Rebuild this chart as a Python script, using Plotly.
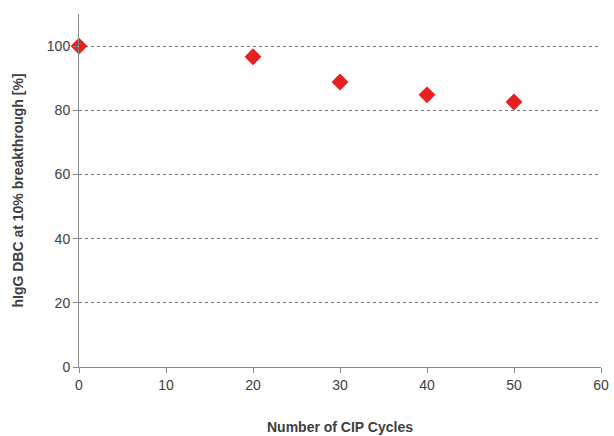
import plotly.graph_objects as go

cycles = [0, 20, 30, 40, 50]
dbc = [100, 96.7, 88.8, 84.8, 82.6]

fig = go.Figure(go.Scatter(x=cycles, y=dbc, mode="markers", cliponaxis=False,
    marker=dict(symbol="diamond", size=13, color="#e8201f")))
fig.update_layout(width=614, height=436, plot_bgcolor="white", paper_bgcolor="white",
    margin=dict(l=79, r=13, t=14, b=69), showlegend=False,
    font=dict(family="Liberation Sans, Arial", size=14, color="#404040"))
fig.update_xaxes(range=[0, 60], dtick=10, showgrid=False, showline=True, linecolor="#888",
    ticks="outside", ticklen=5, tickcolor="#888", zeroline=False, automargin=False,
    title=dict(text="<b>Number of CIP Cycles</b>", font=dict(size=14), standoff=30))
fig.update_yaxes(range=[0, 110], tickvals=[0, 20, 40, 60, 80, 100], showgrid=True,
    gridcolor="#777", griddash="dot", gridwidth=1, showline=True, linecolor="#888",
    ticks="outside", ticklen=5, tickcolor="#888", zeroline=False, automargin=False,
    title=dict(text="<b>hIgG DBC at 10% breakthrough [%]</b>", font=dict(size=14), standoff=19))
fig.write_html("out.html", config={"displayModeBar": False},
    post_script="document.body.style.margin='0';document.body.style.overflow='hidden';")
